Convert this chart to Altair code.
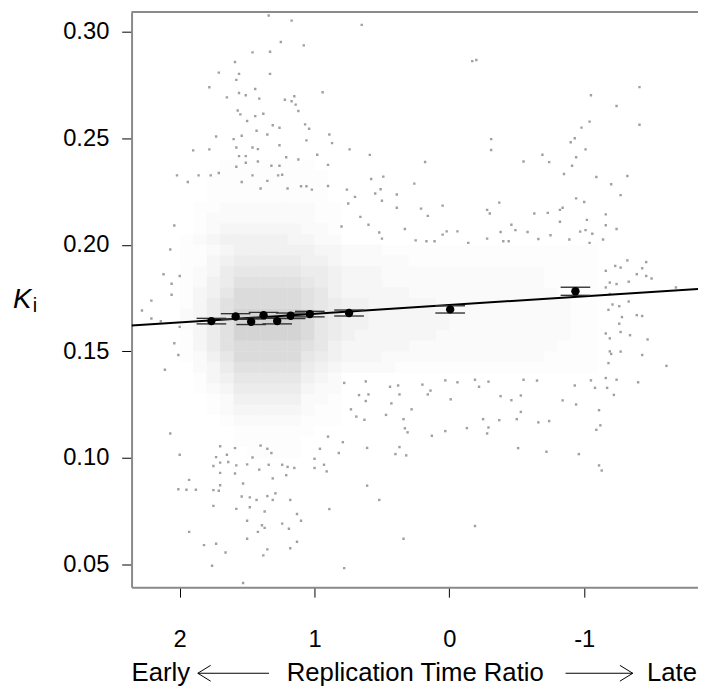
import altair as alt
import pandas as pd

# ---- binned means (black dots) with standard errors ----
mean_x = [1.765, 1.585, 1.47, 1.378, 1.277, 1.177, 1.035, 0.744, -0.006, -0.935]
mean_y = [0.1642, 0.1664, 0.1639, 0.1670, 0.1642, 0.1667, 0.1675, 0.1680, 0.1697, 0.1782]
mean_se = [0.0013, 0.0013, 0.0013, 0.0013, 0.0013, 0.0013, 0.0013, 0.0014, 0.0017, 0.0019]

# ---- regression line (ends of fitted line) ----
reg_x = [2.357, -1.844]
reg_y = [0.1621, 0.1793]

# ---- density of the gray cloud in its dense core, estimated levels 0-9 ----
# cells: x from 2.0 downwards in steps of 0.1 (31 columns), y from 0.24 downwards in steps of 0.005
grid_x_start, grid_x_step = 2.0, 0.1
grid_y_start, grid_y_step = 0.24, 0.005
grid_rows = [
    "000111111100" + "0000000000000000000",
    "001111111110" + "0000000000000000000",
    "001111111110" + "0000000000000000000",
    "001111111110" + "0000000000000000000",
    "011222222211" + "0000000000000000000",
    "012222222211" + "0000000000000000000",
    "012333333221" + "0000000000000000000",
    "123444443322" + "0000000000000000000",
    "112344444433" + "2221111111111111111",
    "113455555443" + "2222211111111111111",
    "123566666554" + "3332222222222221111",
    "124577777654" + "3332222222222221111",
    "134688888764" + "3333322222222222111",
    "135788888765" + "4433333222222222211",
    "235799999865" + "4433333322222222211",
    "235799999865" + "4433333322222222211",
    "135799999865" + "4333333222222222211",
    "135788888764" + "3333322222222222111",
    "124688888654" + "3332222222222221111",
    "023577777543" + "2222111111111111111",
    "013466666432" + "0000000000000000000",
    "012355555322" + "0000000000000000000",
    "001244444221" + "0000000000000000000",
    "001233333211" + "0000000000000000000",
    "000122222111" + "0000000000000000000",
    "000011111100" + "0000000000000000000",
    "000011111000" + "0000000000000000000",
    "000001111000" + "0000000000000000000",
]

# ---- individual gray points outside the dense core (x, Ki) ----
top_left_pts = [
    (1.71, 0.2808), (1.78, 0.2739), (1.65, 0.2692), (1.60, 0.2496), (1.73, 0.2508), (1.90, 0.2443),
    (1.78, 0.2448), (1.77, 0.2326), (1.71, 0.2337), (1.86, 0.2326), (2.02, 0.2326), (1.94, 0.2295),
    (1.59, 0.2858), (1.58, 0.2774),
]
top_pts = [
    (1.34, 0.3076), (1.17, 0.3052), (1.00, 0.3102), (0.65, 0.3032), (1.25, 0.2952), (1.08, 0.2936),
    (1.46, 0.2903), (1.33, 0.2906), (1.56, 0.2802), (1.33, 0.2802), (1.44, 0.2731), (1.56, 0.2712),
    (1.51, 0.2702), (1.41, 0.2686), (1.22, 0.2681), (1.15, 0.2697), (1.17, 0.2674), (1.14, 0.2658),
    (0.94, 0.2716), (1.57, 0.2630), (1.38, 0.2615), (1.44, 0.2604), (1.55, 0.2612), (1.12, 0.2628),
    (1.07, 0.2565), (1.04, 0.2545), (1.26, 0.2549), (1.31, 0.2561), (1.50, 0.2581), (1.35, 0.2518),
    (1.54, 0.2512), (1.43, 0.2535), (0.89, 0.2518), (0.87, 0.2477), (1.06, 0.2490), (1.26, 0.2467),
    (1.46, 0.2457), (1.58, 0.2457), (1.42, 0.2449), (0.74, 0.2448), (0.59, 0.2422), (0.98, 0.2423),
    (1.21, 0.2411), (1.12, 0.2400), (1.56, 0.2416), (1.51, 0.2416), (1.42, 0.2391), (1.51, 0.2385),
    (1.32, 0.2371), (1.26, 0.2371), (0.90, 0.2375), (1.58, 0.2366), (0.18, 0.2389), (-0.17, 0.2862),
    (-0.20, 0.2867), (-0.31, 0.2496), (-0.31, 0.2445), (-0.55, 0.2391), (-0.69, 0.2423), (-0.74, 0.2388),
    (-1.05, 0.2702), (-1.41, 0.2740), (-1.24, 0.2651), (-1.04, 0.2578), (-1.41, 0.2563), (-0.98, 0.2550),
    (-0.93, 0.2500), (-0.90, 0.2481), (-1.01, 0.2448), (-0.94, 0.2411), (-0.91, 0.2371), (-0.85, 0.2332),
    (-1.09, 0.2318), (-1.32, 0.2323), (-1.20, 0.2284), (0.26, 0.2287), (0.49, 0.2320), (0.58, 0.2309),
    (0.51, 0.2261), (0.90, 0.2276), (0.76, 0.2259), (1.54, 0.2295), (1.46, 0.2326), (1.27, 0.2326),
    (1.24, 0.2329), (1.40, 0.2264), (1.10, 0.2275), (1.06, 0.2275), (1.02, 0.2259), (1.20, 0.2264),
    (1.35, 0.2300),
]
upper_right_pts = [
    (-1.27, 0.2233), (-0.94, 0.2218), (-1.00, 0.2201), (-0.84, 0.2174), (-1.16, 0.2143), (-0.63, 0.2147),
    (-0.73, 0.2150), (-1.02, 0.2117), (-0.82, 0.2108), (-1.16, 0.2092), (-1.24, 0.2074), (-1.01, 0.2069),
    (-1.06, 0.2052), (-0.97, 0.2062), (-0.46, 0.2094), (-0.49, 0.2069), (-0.58, 0.2060), (-0.38, 0.2060),
    (-0.66, 0.2027), (-0.75, 0.2045), (-0.37, 0.2198), (-0.28, 0.2164), (-0.30, 0.2147), (0.05, 0.2184),
    (0.16, 0.2136), (0.21, 0.2170), (0.33, 0.2074), (0.02, 0.2063), (-0.06, 0.2063), (0.05, 0.2048),
    (0.55, 0.2241), (0.50, 0.2207), (0.39, 0.2236), (0.39, 0.2174), (0.70, 0.2225), (0.75, 0.2194),
    (0.66, 0.2131), (0.60, 0.2094), (0.52, 0.2058), (0.80, 0.2086), (-0.82, 0.2164), (0.50, 0.2029),
    (0.25, 0.2021), (0.17, 0.2017), (0.11, 0.2017), (-0.14, 0.2009), (-0.28, 0.2029), (-0.40, 0.2017),
    (-0.44, 0.2017), (-0.89, 0.2025), (-1.14, 0.2025), (-1.04, 0.2009),
]
right_pts = [
    (-1.32, 0.1927), (-1.46, 0.1919), (-1.27, 0.1893), (-1.23, 0.1901), (-1.43, 0.1890), (-1.39, 0.1862),
    (-1.46, 0.1854), (-1.50, 0.1842), (-1.16, 0.1878), (-1.19, 0.1823), (-1.24, 0.1816), (-1.33, 0.1827),
    (-1.16, 0.1800), (-1.68, 0.1800), (-1.19, 0.1769), (-1.26, 0.1712), (-1.21, 0.1720), (-1.33, 0.1734),
    (-1.28, 0.1661), (-1.39, 0.1670), (-1.43, 0.1666), (-1.18, 0.1695), (-1.26, 0.1630), (-1.27, 0.1591),
    (-1.16, 0.1584), (-1.34, 0.1576), (-1.47, 0.1556), (-1.19, 0.1561), (-1.19, 0.1500), (-1.27, 0.1499),
    (-1.20, 0.1488), (-1.43, 0.1483), (-1.18, 0.1445), (-1.61, 0.1432), (-1.16, 0.1375),
]
lower_right_pts = [
    (0.73, 0.1228), (0.67, 0.1295), (0.60, 0.1298), (0.62, 0.1267), (0.44, 0.1334), (0.38, 0.1340),
    (0.37, 0.1298), (0.43, 0.1256), (0.47, 0.1202), (0.28, 0.1228), (0.34, 0.1182), (0.33, 0.1139),
    (0.31, 0.1120), (0.63, 0.1179), (0.69, 0.1194), (0.79, 0.1074), (0.61, 0.1047), (0.37, 0.1051),
    (0.40, 0.1018), (0.32, 0.1012), (0.62, 0.1359), (0.78, 0.1352), (0.82, 0.1023), (0.90, 0.1100),
    (0.96, 0.1043), (-0.19, 0.1367), (-0.29, 0.1358), (-0.22, 0.1334), (-0.06, 0.1355), (0.03, 0.1364),
    (0.20, 0.1344), (0.14, 0.1316), (0.16, 0.1298), (-0.01, 0.1275), (-0.38, 0.1290), (-0.46, 0.1271),
    (-0.53, 0.1293), (-0.53, 0.1216), (-0.50, 0.1182), (-0.37, 0.1177), (-0.25, 0.1182), (-0.29, 0.1143),
    (-0.28, 0.1115), (-0.13, 0.1140), (0.03, 0.1126), (0.13, 0.1104), (-0.66, 0.1167), (-0.74, 0.1173),
    (-0.84, 0.1270), (-0.94, 0.1251), (-0.93, 0.1340), (-1.08, 0.1329), (-1.05, 0.1364), (-1.22, 0.1296),
    (-1.11, 0.1224), (-1.12, 0.1153), (-1.09, 0.1132), (-0.51, 0.1046), (-0.72, 0.1029), (-0.96, 0.1018),
    (-1.11, 0.0965), (-1.13, 0.0941), (-0.19, 0.0681), (-0.65, 0.1363), (-0.55, 0.1367), (-1.17, 0.1329),
    (-1.40, 0.1355), (-1.24, 0.1367),
]
bottom_pts = [
    (1.70, 0.1055), (1.65, 0.1015), (1.59, 0.1046), (1.73, 0.1004), (1.75, 0.0962), (1.70, 0.0978),
    (1.64, 0.0981), (1.58, 0.0965), (1.50, 0.0970), (1.46, 0.1002), (1.40, 0.1058), (1.41, 0.0945),
    (1.35, 0.1043), (1.32, 0.1023), (1.34, 0.0968), (1.31, 0.0904), (1.53, 0.0880), (1.59, 0.0927),
    (1.70, 0.0930), (1.70, 0.0872), (1.75, 0.0849), (1.71, 0.0846), (1.54, 0.0819), (1.48, 0.0815),
    (1.43, 0.0803), (1.35, 0.0821), (1.29, 0.0834), (1.31, 0.0803), (1.18, 0.0803), (1.21, 0.0919),
    (1.20, 0.0958), (1.15, 0.0953), (1.24, 0.0968), (1.00, 0.0953), (0.91, 0.0937), (0.93, 0.0968),
    (1.00, 0.0996), (1.75, 0.0775), (1.58, 0.0761), (1.48, 0.0769), (1.37, 0.0749), (1.13, 0.0737),
    (1.10, 0.0705), (1.50, 0.0705), (1.39, 0.0684), (1.37, 0.0672), (1.42, 0.0653), (1.24, 0.0692),
    (1.19, 0.0668), (1.50, 0.0621), (1.13, 0.0607), (1.18, 0.0576), (1.35, 0.0571), (1.38, 0.0543),
    (1.66, 0.0556), (1.73, 0.0597), (1.82, 0.0591), (1.76, 0.0494), (1.93, 0.0653), (2.00, 0.1015),
    (2.01, 0.0853), (1.95, 0.0851), (1.88, 0.0851), (1.93, 0.0897), (1.53, 0.0413), (0.78, 0.0483),
    (0.89, 0.0760), (0.52, 0.0803), (0.61, 0.0870), (0.34, 0.0621),
]
left_pts = [
    (2.04, 0.2091), (2.07, 0.1978), (2.12, 0.1862), (2.28, 0.1692), (2.21, 0.1738), (2.06, 0.1817),
    (2.00, 0.1854), (2.06, 0.1766), (2.04, 0.1538), (2.01, 0.1483), (2.11, 0.1414), (2.00, 0.1615),
    (2.21, 0.1654), (2.14, 0.1641), (2.07, 0.1115),
]

x_ticks = [2, 1, 0, -1]
y_ticks = [0.05, 0.10, 0.15, 0.20, 0.25, 0.30]

# ---- tables ----
cells = []
for r, row in enumerate(grid_rows):
    for c, ch in enumerate(row):
        if ch != "0":
            x1 = grid_x_start - grid_x_step * c
            y1 = grid_y_start - grid_y_step * r
            cells.append({"x1": x1, "x2": x1 - grid_x_step, "y1": y1, "y2": y1 - grid_y_step, "level": int(ch)})
cells_df = pd.DataFrame(cells)

all_pts = top_left_pts + top_pts + upper_right_pts + right_pts + lower_right_pts + bottom_pts + left_pts
pts_df = pd.DataFrame(all_pts, columns=["x", "y"])

means_df = pd.DataFrame({"x": mean_x, "y": mean_y, "se": mean_se})
means_df["lo"] = means_df["y"] - means_df["se"]
means_df["hi"] = means_df["y"] + means_df["se"]
reg_df = pd.DataFrame({"x": reg_x, "y": reg_y})

W, H = 573, 582
FONT = "Liberation Sans"
xscale = alt.Scale(domain=[-1.844, 2.357], reverse=True, nice=False, zero=False)
yscale = alt.Scale(domain=[0.03933, 0.30928], nice=False, zero=False)

xaxis = alt.Axis(values=x_ticks, labelExpr="'' + datum.value", title=None, grid=False,
                 domainColor="#8a8a8a", domainWidth=2, tickColor="black", tickSize=10, tickWidth=1,
                 labelFont=FONT, labelFontSize=24, labelColor="black", labelPadding=31)
yaxis = alt.Axis(values=y_ticks, format=".2f", title=None, grid=False,
                 domainColor="#8a8a8a", domainWidth=2, tickColor="black", tickSize=10, tickWidth=1,
                 labelFont=FONT, labelFontSize=24, labelColor="black", labelPadding=13)

density = alt.Chart(cells_df).mark_rect(color="#a9a9a9", strokeWidth=0, clip=True).encode(
    x=alt.X("x1:Q", scale=xscale, axis=xaxis),
    x2="x2:Q",
    y=alt.Y("y1:Q", scale=yscale, axis=yaxis),
    y2="y2:Q",
    opacity=alt.Opacity("level:Q", scale=alt.Scale(type="pow", exponent=1.4, domain=[0, 9], range=[0, 0.5]),
                        legend=None),
)

scatter = alt.Chart(pts_df).mark_square(size=6, color="#a0a0a0", opacity=1, clip=True).encode(
    x=alt.X("x:Q", scale=xscale), y=alt.Y("y:Q", scale=yscale)
)

regline = alt.Chart(reg_df).mark_line(color="black", strokeWidth=2, clip=True).encode(
    x=alt.X("x:Q", scale=xscale), y=alt.Y("y:Q", scale=yscale)
)

err_rule = alt.Chart(means_df).mark_rule(color="#333333", strokeWidth=1.2).encode(
    x=alt.X("x:Q", scale=xscale), y=alt.Y("lo:Q", scale=yscale), y2="hi:Q"
)
cap_lo = alt.Chart(means_df).mark_tick(orient="horizontal", size=30, thickness=1.4, color="#333333", opacity=1).encode(
    x=alt.X("x:Q", scale=xscale), y=alt.Y("lo:Q", scale=yscale)
)
cap_hi = alt.Chart(means_df).mark_tick(orient="horizontal", size=30, thickness=1.4, color="#333333", opacity=1).encode(
    x=alt.X("x:Q", scale=xscale), y=alt.Y("hi:Q", scale=yscale)
)
dots = alt.Chart(means_df).mark_circle(size=72, color="black", opacity=1).encode(
    x=alt.X("x:Q", scale=xscale), y=alt.Y("y:Q", scale=yscale)
)

one = pd.DataFrame({"k": [0]})
top_border = alt.Chart(one).mark_rule(color="#8a8a8a", strokeWidth=2).encode(
    x=alt.value(0), x2=alt.value(W), y=alt.value(0)
)

k_label = alt.Chart(pd.DataFrame({"t": ["K"]})).mark_text(
    font=FONT, fontSize=28, fontStyle="italic", align="left", baseline="alphabetic", color="black"
).encode(text="t:N", x=alt.value(-120), y=alt.value(300))
i_label = alt.Chart(pd.DataFrame({"t": ["i"]})).mark_text(
    font=FONT, fontSize=20, align="left", baseline="alphabetic", color="black"
).encode(text="t:N", x=alt.value(-100), y=alt.value(304))

TITLE_Y = 677
ARROW_Y = 669
early = alt.Chart(pd.DataFrame({"t": ["Early"]})).mark_text(
    font=FONT, fontSize=26, align="left", baseline="alphabetic", color="black"
).encode(text="t:N", x=alt.value(0), y=alt.value(TITLE_Y))
middle = alt.Chart(pd.DataFrame({"t": ["Replication Time Ratio"]})).mark_text(
    font=FONT, fontSize=26, align="center", baseline="alphabetic", color="black"
).encode(text="t:N", x=alt.value(287), y=alt.value(TITLE_Y))
late = alt.Chart(pd.DataFrame({"t": ["Late"]})).mark_text(
    font=FONT, fontSize=26, align="right", baseline="alphabetic", color="black"
).encode(text="t:N", x=alt.value(W - 1), y=alt.value(TITLE_Y))


def seg(x1, y1, x2, y2):
    return alt.Chart(one).mark_rule(color="black", strokeWidth=1).encode(
        x=alt.value(x1), y=alt.value(y1), x2=alt.value(x2), y2=alt.value(y2)
    )


arrows = [
    seg(67, ARROW_Y, 139, ARROW_Y), seg(67, ARROW_Y, 80, ARROW_Y - 8), seg(67, ARROW_Y, 80, ARROW_Y + 8),
    seg(439, ARROW_Y, 507, ARROW_Y), seg(507, ARROW_Y, 494, ARROW_Y - 8), seg(507, ARROW_Y, 494, ARROW_Y + 8),
]

chart = alt.layer(
    density, scatter, regline, err_rule, cap_lo, cap_hi, dots, top_border,
    k_label, i_label, early, middle, late, *arrows
).properties(
    width=W, height=H,
    autosize=alt.AutoSizeParams(type="none"),
    padding={"left": 125, "top": 0, "right": 0, "bottom": 102},
).configure_view(stroke=None).configure(background="white")

chart.save("out.html", embed_options={"renderer": "svg", "actions": False})
